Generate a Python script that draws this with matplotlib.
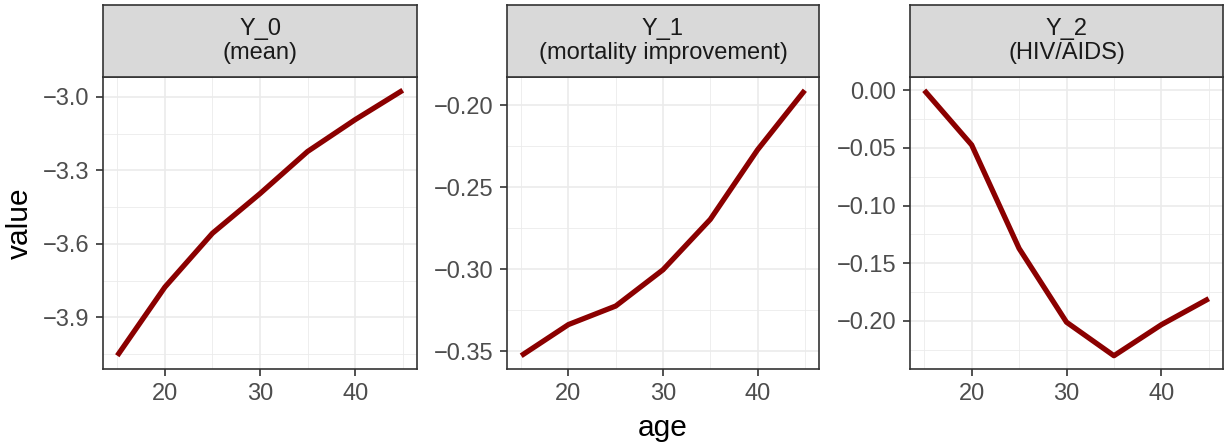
import numpy as np
import matplotlib
matplotlib.use("Agg")
import matplotlib.pyplot as plt
from matplotlib.ticker import MultipleLocator

plt.rcParams["font.family"] = ["Liberation Sans", "DejaVu Sans"]

# data
age = [15, 20, 25, 30, 35, 40, 45]
y0_mean = [-4.057, -3.777, -3.557, -3.395, -3.223, -3.093, -2.973]
y1_mortality = [-0.3526, -0.3336, -0.3223, -0.3002, -0.2695, -0.2271, -0.1908]
y2_hiv = [0.0, -0.0474, -0.1372, -0.2012, -0.2303, -0.2034, -0.1808]

strip_labels = ["Y_0\n(mean)", "Y_1\n(mortality improvement)", "Y_2\n(HIV/AIDS)"]
series = [y0_mean, y1_mortality, y2_hiv]
y_major = [0.3, 0.05, 0.05]
y_fmt = ["{:.1f}", "{:.2f}", "{:.2f}"]

W, H = 1228, 447
fig = plt.figure(figsize=(W / 100, H / 100), dpi=100)

panels = [(103, 417), (507, 819), (910, 1223)]
top, bottom, strip_top = 77, 369, 5

for (x0, x1), vals, lab, step, fmt in zip(panels, series, strip_labels, y_major, y_fmt):
    ax = fig.add_axes([x0 / W, (H - bottom) / H, (x1 - x0) / W, (bottom - top) / H])
    ax.plot(age, vals, color="#8B0000", lw=3.8, solid_capstyle="butt")

    ax.set_xlim(13.5, 46.5)
    lo, hi = min(vals), max(vals)
    pad = (hi - lo) * 0.05
    ax.set_ylim(lo - pad, hi + pad)

    ax.xaxis.set_major_locator(MultipleLocator(10))
    ax.xaxis.set_minor_locator(MultipleLocator(5))
    ax.yaxis.set_major_locator(MultipleLocator(step))
    ax.yaxis.set_minor_locator(MultipleLocator(step / 2))
    ticks = [t for t in ax.get_yticks() if lo - pad <= t <= hi + pad]
    ax.set_yticks(ticks)
    ax.set_yticklabels([fmt.format(t).replace("-", "\u2212") for t in ticks])
    ax.set_xticks([20, 30, 40])

    ax.grid(which="major", color="#EBEBEB", lw=1.2)
    ax.grid(which="minor", color="#EBEBEB", lw=0.6)
    ax.set_axisbelow(True)
    ax.tick_params(which="major", length=5, width=1.2, color="#333333",
                   labelcolor="#4D4D4D", labelsize=17, pad=5)
    ax.tick_params(which="minor", length=0)
    for s in ax.spines.values():
        s.set_color("#333333")
        s.set_linewidth(1.2)

    sx = fig.add_axes([x0 / W, (H - top) / H, (x1 - x0) / W, (top - strip_top) / H])
    sx.set_facecolor("#D9D9D9")
    sx.set_xticks([])
    sx.set_yticks([])
    for s in sx.spines.values():
        s.set_color("#333333")
        s.set_linewidth(1.2)
    sx.text(0.5, 0.5, lab, ha="center", va="center", fontsize=17,
            color="#1A1A1A", linespacing=1.15, transform=sx.transAxes)

fig.text(20 / W, 1 - 223 / H, "value", rotation=90, ha="center", va="center",
         fontsize=21.5, color="black")
fig.text(663 / W, 1 - 428 / H, "age", ha="center", va="center",
         fontsize=21.5, color="black")

fig.savefig("out.png", dpi=100)
